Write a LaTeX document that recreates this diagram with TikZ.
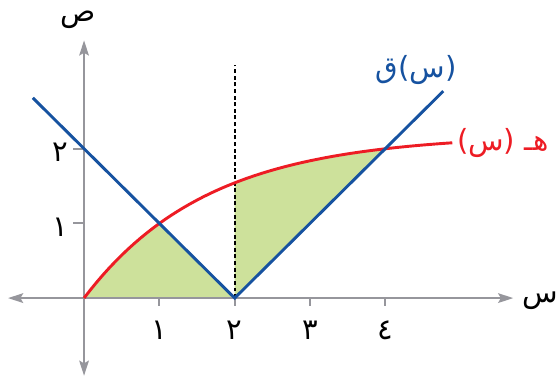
\documentclass[tikz,border=0pt]{standalone}
\usepackage{fontspec}
\usepackage{tikz}
\usetikzlibrary{arrows.meta,positioning}
\TeXXeTstate=1
\newfontfamily\arabicfont[Script=Arabic]{DejaVu Sans}
\definecolor{axisgray}{RGB}{150,150,156}
\definecolor{qblue}{RGB}{22,82,160}
\definecolor{hred}{RGB}{237,28,36}
\definecolor{areagreen}{RGB}{205,225,155}

\begin{document}
\begin{tikzpicture}[x=1cm, y=0.992cm, font=\arabicfont\fontsize{11}{13}\selectfont,
    axis/.style={axisgray, line width=0.9pt,
                 {Stealth[length=5.7pt,width=3.6pt,inset=1pt]}-{Stealth[length=5.7pt,width=3.6pt,inset=1pt]}},
    tickmark/.style={axisgray, line width=0.8pt},
    curve/.style={line width=1.1pt}]
  \useasboundingbox (-1.116,-1.058) rectangle (6.28,3.99);
  % Area
  \begin{scope}
    \clip plot[domain=0:4.89, samples=60] (\x,{2.19*(1-exp(-0.6093*\x))})
          -- (4.89,0) -- cycle;
    \fill[areagreen] (0,0) -- (0,2) -- (2,0) -- cycle;
    \fill[areagreen] (2,0) -- (4,2) -- (4,3) -- (2,3) -- cycle;
  \end{scope}
  % Axes
  \draw[axis] (-1.01,0) -- (5.70,0);
  \draw[axis] (0,-1.04) -- (0,3.45);
  \foreach \x/\lab in {1/١, 2/٢, 3/٣, 4/٤}{
    \draw[tickmark] (\x,0) -- (\x,-0.11);
    \node (x\x) at (\x,-0.43) {\lab};
  }
  \foreach \y/\lab in {1/١, 2/٢}{
    \draw[tickmark] (0,\y) -- (-0.15,\y);
    \node (y\y) at (-0.31,\y-0.05) {\lab};
  }
  \node (ylab) at (-0.08,3.72) {ص};
  \node (xlab) at (6.06,-0.03) {س};
  % Dotted line
  \draw[line width=0.7pt, dash pattern=on 1.5pt off 1pt] (2,0) -- (2,3.12);
  % Curves
  \draw[curve, hred] plot[domain=0:4.89, samples=60] (\x,{2.19*(1-exp(-0.6093*\x))});
  \draw[curve, qblue] (-0.68,2.68) -- (2,0) -- (4.77,2.77);
  \node[text=qblue] (qlab) at (4.41,3.05) {(س)ق};
  \node[text=hred] (hlab) at (5.56,2.07) {(س) \beginR هـ\endR};
\end{tikzpicture}
\end{document}
